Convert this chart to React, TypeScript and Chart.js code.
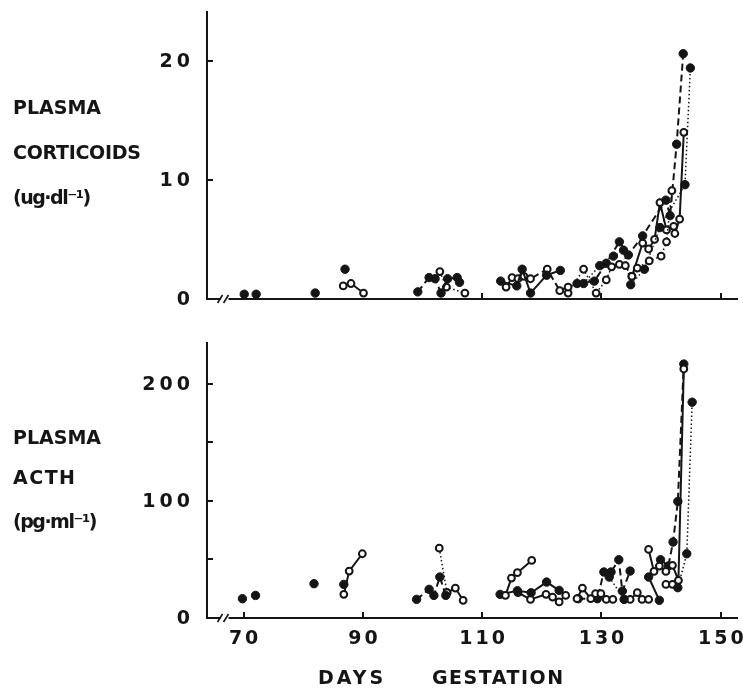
import React, { useEffect, useRef } from 'react';
import { Chart, registerables } from 'chart.js';

Chart.register(...registerables);

// ---------- axes ----------
const X_MIN = 63.86;
const X_MAX = 152.82;
const X_TICK_LABELS = [70, 90, 110, 130, 150];
const TOP_X_TICKS = [110, 130, 150];
const TOP_Y_LABELS = [0, 10, 20];
const TOP_Y_TICKS = [10, 20];
const TOP_Y_MAX = 24.1;
const BOT_Y_LABELS = [0, 100, 200];
const BOT_Y_TICKS = [50, 100, 150, 200];
const BOT_Y_MAX = 235;
const AXIS_BREAK_AT = 66.8;

// ---------- plasma corticoids (ug/dl) ----------
const c1Days = [70.1, 72.1, 82.0, 87.0];
const c1Vals = [0.4, 0.4, 0.5, 2.5];
const c2Days = [86.7, 88.0, 90.1];
const c2Vals = [1.1, 1.3, 0.5];
const c3Days = [99.2, 101.1, 102.1, 103.1, 104.2, 105.8, 106.2];
const c3Vals = [0.6, 1.8, 1.7, 0.5, 1.7, 1.8, 1.4];
const c4Days = [102.9, 104.0, 107.1];
const c4Vals = [2.3, 1.0, 0.5];
const c5Days = [113.1, 115.8, 116.7, 118.1, 120.8, 123.1];
const c5Vals = [1.5, 1.1, 2.5, 0.5, 2.0, 2.4];
const c6Days = [114.0, 115.0, 116.0, 117.0, 118.1, 120.9, 123.0, 124.4];
const c6Vals = [1.0, 1.8, 1.7, 1.9, 1.7, 2.5, 0.7, 1.0];
const c7Days = [124.4, 127.0, 129.1, 130.8, 131.7, 133.0, 134.0, 135.1, 136.0, 138.0, 140.0, 140.9, 141.8];
const c7Vals = [0.5, 2.5, 0.5, 1.6, 2.7, 2.9, 2.8, 1.9, 2.6, 3.2, 3.6, 4.8, 9.1];
const c8Days = [125.9, 128.8, 130.8, 133.0, 134.5, 136.9, 140.8, 141.5, 142.6, 143.7];
const c8Vals = [1.3, 1.5, 3.0, 4.8, 3.7, 5.3, 8.3, 7.0, 13.0, 20.6];
const c9Days = [127.0, 129.7, 132.0, 133.7, 134.9, 137.2, 139.8, 144.0, 144.9];
const c9Vals = [1.3, 2.8, 3.6, 4.1, 1.2, 2.5, 6.0, 9.6, 19.4];
const c10Days = [135.1, 136.9, 137.9, 138.9, 139.8, 140.9, 142.1, 142.3, 143.1, 143.8];
const c10Vals = [1.9, 4.7, 4.2, 5.0, 8.1, 5.8, 6.1, 5.5, 6.7, 14.0];

// ---------- plasma ACTH (pg/ml) ----------
const a1Days = [69.8, 72.0, 81.8, 86.8];
const a1Vals = [16.5, 19.3, 29.3, 28.7];
const a2Days = [86.8, 87.7, 89.9];
const a2Vals = [20.2, 40.1, 54.9];
const a3Days = [99.0, 101.1, 101.9, 102.9, 103.9];
const a3Vals = [15.9, 24.5, 19.3, 35.0, 19.3];
const a4Days = [102.8, 104.1];
const a4Vals = [59.7, 21.6];
const a5Days = [104.1, 105.5, 106.8];
const a5Vals = [21.6, 25.6, 15.1];
const a6Days = [113.9, 114.9, 115.9, 118.3];
const a6Vals = [19.3, 34.1, 38.7, 49.2];
const a7Days = [113.0, 115.9, 118.2, 120.8, 122.9];
const a7Vals = [20.2, 23.3, 21.6, 30.7, 23.6];
const a8Days = [116.0, 118.1, 120.7, 121.8, 122.9, 124.0];
const a8Vals = [21.6, 15.9, 20.2, 17.9, 13.7, 19.3];
const a9Days = [125.9, 126.8, 128.2, 129.0, 129.9, 130.8, 131.9];
const a9Vals = [16.5, 25.6, 16.5, 20.8, 20.8, 15.9, 15.9];
const a10Days = [126.1, 129.3, 130.4, 131.6, 132.9, 133.5, 134.8];
const a10Vals = [16.5, 16.5, 39.3, 39.3, 49.8, 23.0, 40.1];
const a11Days = [131.3, 133.8];
const a11Vals = [35.0, 15.9];
const a12Days = [133.8, 134.8, 136.0, 136.8, 137.9];
const a12Vals = [15.9, 15.9, 21.6, 15.9, 15.9];
const a13Days = [137.9, 139.7];
const a13Vals = [35.0, 15.1];
const a14Days = [137.9, 138.8, 139.7, 140.8, 141.9, 142.9, 143.8];
const a14Vals = [58.6, 39.8, 44.4, 39.8, 45.0, 32.1, 212.8];
const a15Days = [139.9, 141.2, 142.0, 142.8, 143.8];
const a15Vals = [49.8, 44.4, 64.9, 99.6, 217.0];
const a16Days = [142.8, 144.3, 145.2];
const a16Vals = [25.9, 54.9, 184.4];
const a17Days = [140.8, 141.9];
const a17Vals = [28.7, 28.7];

// ---------- styling ----------
const INK = '#151515';
const FONT = 'DejaVu Sans';
type Kind = 'filled' | 'open';
type Stroke = 'none' | 'solid' | 'dashed' | 'dotted';
const DASHES: Record<Stroke, number[]> = { none: [], solid: [], dashed: [7, 4], dotted: [1.5, 2.5] };

function series(days: number[], vals: number[], kind: Kind, stroke: Stroke) {
  return {
    data: days.map((d, i) => ({ x: d, y: vals[i] })),
    showLine: stroke !== 'none',
    borderColor: INK,
    borderWidth: stroke === 'dotted' ? 1.5 : 2,
    borderDash: DASHES[stroke],
    pointRadius: kind === 'filled' ? 4.2 : 3.4,
    pointHoverRadius: kind === 'filled' ? 4.2 : 3.4,
    pointBackgroundColor: kind === 'filled' ? INK : '#ffffff',
    pointBorderColor: INK,
    pointBorderWidth: kind === 'filled' ? 1 : 2,
    tension: 0,
    clip: false as const,
  };
}

const topDatasets = () => [
  series(c1Days, c1Vals, 'filled', 'none'),
  series(c2Days, c2Vals, 'open', 'solid'),
  series(c3Days, c3Vals, 'filled', 'dashed'),
  series(c4Days, c4Vals, 'open', 'dotted'),
  series(c5Days, c5Vals, 'filled', 'solid'),
  series(c6Days, c6Vals, 'open', 'dashed'),
  series(c7Days, c7Vals, 'open', 'dotted'),
  series(c8Days, c8Vals, 'filled', 'dashed'),
  series(c9Days, c9Vals, 'filled', 'dotted'),
  series(c10Days, c10Vals, 'open', 'solid'),
];

const bottomDatasets = () => [
  series(a1Days, a1Vals, 'filled', 'none'),
  series(a2Days, a2Vals, 'open', 'solid'),
  series(a3Days, a3Vals, 'filled', 'dashed'),
  series(a4Days, a4Vals, 'open', 'dotted'),
  series(a5Days, a5Vals, 'open', 'solid'),
  series(a6Days, a6Vals, 'open', 'solid'),
  series(a7Days, a7Vals, 'filled', 'solid'),
  series(a8Days, a8Vals, 'open', 'solid'),
  series(a9Days, a9Vals, 'open', 'solid'),
  series(a10Days, a10Vals, 'filled', 'dashed'),
  series(a11Days, a11Vals, 'filled', 'dotted'),
  series(a12Days, a12Vals, 'open', 'solid'),
  series(a13Days, a13Vals, 'filled', 'solid'),
  series(a14Days, a14Vals, 'open', 'solid'),
  series(a15Days, a15Vals, 'filled', 'dashed'),
  series(a16Days, a16Vals, 'filled', 'dotted'),
  series(a17Days, a17Vals, 'open', 'solid'),
];

// draws text one glyph at a time with extra tracking
function drawSpaced(ctx: CanvasRenderingContext2D, text: string, anchor: number, y: number, align: 'right' | 'center', spacing: number) {
  const chars = Array.from(text);
  const widths = chars.map((ch) => ctx.measureText(ch).width);
  const total = widths.reduce((s, w) => s + w, 0) + spacing * (chars.length - 1);
  let x = align === 'right' ? anchor - total : anchor - total / 2;
  ctx.textAlign = 'left';
  ctx.textBaseline = 'middle';
  chars.forEach((ch, i) => {
    ctx.fillText(ch, x, y);
    x += widths[i] + spacing;
  });
}

const decorPlugin = {
  id: 'decor',
  afterDraw(chart: any, _args: any, opts: any) {
    const { ctx, chartArea: a, scales } = chart;
    const x = scales.x;
    const y = scales.y;
    ctx.save();
    ctx.strokeStyle = INK;
    ctx.lineWidth = 2;
    ctx.beginPath();
    (opts.yTicks as number[]).forEach((v) => {
      const py = Math.round(y.getPixelForValue(v));
      ctx.moveTo(a.left, py);
      ctx.lineTo(a.left + 6, py);
    });
    (opts.xTicks as number[]).forEach((v) => {
      const px = Math.round(x.getPixelForValue(v));
      ctx.moveTo(px, a.bottom);
      ctx.lineTo(px, a.bottom - 6);
    });
    ctx.stroke();

    // axis break
    const bx = x.getPixelForValue(AXIS_BREAK_AT);
    ctx.fillStyle = '#ffffff';
    ctx.fillRect(bx - 4, a.bottom - 3, 8, 6);
    ctx.lineWidth = 1.6;
    ctx.beginPath();
    ctx.moveTo(bx - 7, a.bottom + 4);
    ctx.lineTo(bx - 2, a.bottom - 4);
    ctx.moveTo(bx - 1, a.bottom + 4);
    ctx.lineTo(bx + 4, a.bottom - 4);
    ctx.stroke();

    // tick labels
    ctx.fillStyle = INK;
    ctx.font = `bold 19px "${FONT}"`;
    (opts.yLabels as number[]).forEach((v) => {
      drawSpaced(ctx, String(v), a.left - 17, y.getPixelForValue(v) + 1, 'right', 4);
    });
    (opts.xLabels as number[]).forEach((v) => {
      drawSpaced(ctx, String(v), x.getPixelForValue(v), a.bottom + 21, 'center', 3);
    });
    ctx.restore();
  },
};

interface PanelCfg {
  datasets: any[];
  yMax: number;
  yLabels: number[];
  yTicks: number[];
  xLabels: number[];
  xTicks: number[];
  padTop: number;
  xAxisHeight: number;
}

function makeChart(canvas: HTMLCanvasElement, cfg: PanelCfg) {
  return new Chart(canvas, {
    type: 'scatter',
    data: { datasets: cfg.datasets },
    options: {
      animation: false,
      responsive: false,
      maintainAspectRatio: false,
      events: [],
      layout: { padding: { left: 147, right: 0, top: cfg.padTop, bottom: 0 } },
      plugins: {
        legend: { display: false },
        tooltip: { enabled: false },
        decor: { yTicks: cfg.yTicks, xTicks: cfg.xTicks, yLabels: cfg.yLabels, xLabels: cfg.xLabels },
      } as any,
      scales: {
        x: {
          type: 'linear',
          min: X_MIN,
          max: X_MAX,
          afterFit: (s: any) => {
            s.height = cfg.xAxisHeight;
            s.paddingLeft = 0;
            s.paddingRight = 0;
            s.paddingTop = 0;
            s.paddingBottom = 0;
          },
          grid: { display: false, drawTicks: false },
          border: { display: true, color: INK, width: 2 },
          ticks: { display: false },
        },
        y: {
          type: 'linear',
          min: 0,
          max: cfg.yMax,
          afterFit: (s: any) => {
            s.width = 60;
            s.paddingLeft = 0;
            s.paddingRight = 0;
            s.paddingTop = 0;
            s.paddingBottom = 0;
          },
          grid: { display: false, drawTicks: false },
          border: { display: true, color: INK, width: 2 },
          ticks: { display: false },
        },
      },
    } as any,
    plugins: [decorPlugin],
  });
}

const textStyle: React.CSSProperties = {
  position: 'absolute',
  fontFamily: FONT,
  fontWeight: 'bold',
  fontSize: 19,
  lineHeight: '19px',
  color: INK,
  whiteSpace: 'nowrap',
  margin: 0,
};

export default function App() {
  const topRef = useRef<HTMLCanvasElement>(null);
  const botRef = useRef<HTMLCanvasElement>(null);

  useEffect(() => {
    const top = makeChart(topRef.current!, {
      datasets: topDatasets(),
      yMax: TOP_Y_MAX,
      yLabels: TOP_Y_LABELS,
      yTicks: TOP_Y_TICKS,
      xLabels: [],
      xTicks: TOP_X_TICKS,
      padTop: 12,
      xAxisHeight: 21,
    });
    const bot = makeChart(botRef.current!, {
      datasets: bottomDatasets(),
      yMax: BOT_Y_MAX,
      yLabels: BOT_Y_LABELS,
      yTicks: BOT_Y_TICKS,
      xLabels: X_TICK_LABELS,
      xTicks: X_TICK_LABELS,
      padTop: 23,
      xAxisHeight: 77,
    });
    return () => {
      top.destroy();
      bot.destroy();
    };
  }, []);

  return (
    <div style={{ position: 'absolute', left: 0, top: 0, width: 743, height: 695, background: '#fff', overflow: 'hidden' }}>
      <canvas ref={topRef} width={743} height={320} style={{ position: 'absolute', left: 0, top: 0, width: 743, height: 320 }} />
      <canvas ref={botRef} width={743} height={375} style={{ position: 'absolute', left: 0, top: 320, width: 743, height: 375 }} />
      <div style={{ ...textStyle, left: 13, top: 98 }}>PLASMA</div>
      <div style={{ ...textStyle, left: 13, top: 143, letterSpacing: -0.3 }}>CORTICOIDS</div>
      <div style={{ ...textStyle, left: 13, top: 188, letterSpacing: -1.5 }}>(ug·dl⁻¹)</div>
      <div style={{ ...textStyle, left: 13, top: 428 }}>PLASMA</div>
      <div style={{ ...textStyle, left: 13, top: 468, letterSpacing: 1.5 }}>ACTH</div>
      <div style={{ ...textStyle, left: 13, top: 512, letterSpacing: -1.5 }}>(pg·ml⁻¹)</div>
      <div style={{ ...textStyle, left: 318, top: 668, letterSpacing: 3 }}>DAYS</div>
      <div style={{ ...textStyle, left: 432, top: 668, letterSpacing: 1.5 }}>GESTATION</div>
    </div>
  );
}
